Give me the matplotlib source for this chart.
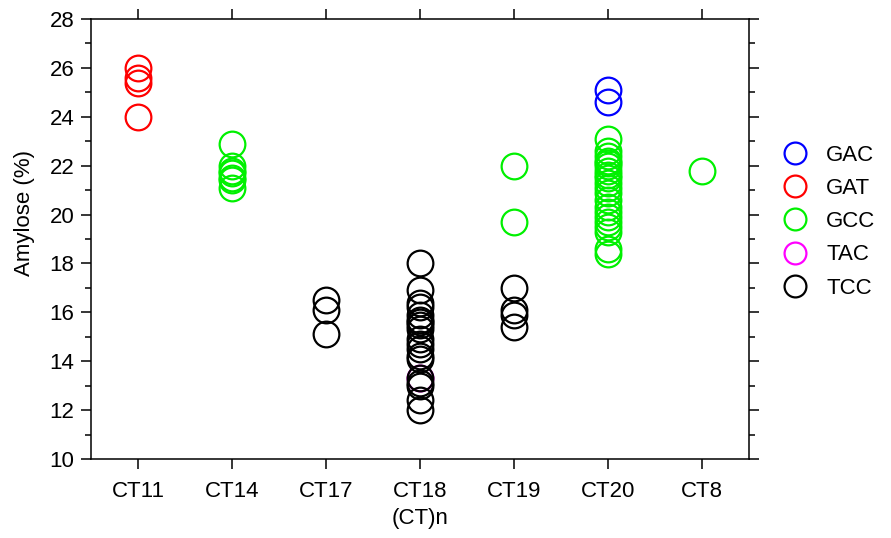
import matplotlib
matplotlib.use('Agg')
import matplotlib.pyplot as plt
from matplotlib.ticker import MultipleLocator

plt.rcParams['font.family'] = ['Liberation Sans', 'DejaVu Sans']

categories = ['CT11', 'CT14', 'CT17', 'CT18', 'CT19', 'CT20', 'CT8']

# (category, amylose) pairs per haplotype
gac_cat = ['CT20', 'CT20']
gac_val = [25.1, 24.6]

gat_cat = ['CT11', 'CT11', 'CT11', 'CT11']
gat_val = [26.0, 25.6, 25.4, 24.0]

gcc_cat = ['CT14'] * 7 + ['CT19'] * 2 + ['CT20'] * 21 + ['CT8']
gcc_val = [22.9, 22.0, 21.8, 21.7, 21.5, 21.4, 21.1,
           22.0, 19.7,
           23.1, 22.6, 22.4, 22.2, 22.1, 22.0, 21.8, 21.6, 21.5, 21.3, 21.1,
           20.9, 20.6, 20.3, 20.1, 19.9, 19.7, 19.5, 19.3, 18.6, 18.4,
           21.8]

tac_cat = ['CT18']
tac_val = [13.3]

tcc_cat = ['CT17'] * 3 + ['CT18'] * 19 + ['CT19'] * 4
tcc_val = [16.5, 16.1, 15.1,
           18.0, 16.9, 16.4, 16.2, 15.9, 15.7, 15.6, 15.5, 15.3, 14.9, 14.7,
           14.5, 14.2, 14.1, 13.3, 13.1, 13.0, 12.4, 12.0,
           17.0, 16.1, 15.9, 15.4]

series = [('GAC', gac_cat, gac_val, '#0000ff'),
          ('GAT', gat_cat, gat_val, '#ff0000'),
          ('GCC', gcc_cat, gcc_val, '#00f000'),
          ('TAC', tac_cat, tac_val, '#ff00ff'),
          ('TCC', tcc_cat, tcc_val, '#000000')]

fig = plt.figure(figsize=(8.91, 5.38), dpi=100)
ax = fig.add_axes([91/891, 1-459/538, (749-91)/891, (459-19)/538])

for name, cats, vals, col in series:
    xs = [categories.index(c) for c in cats]
    ax.plot(xs, vals, 'o', ms=18.5, mfc='none', mec=col, mew=1.6,
            ls='none', label=name)

ax.set_xlim(-0.5, 6.5)
ax.set_ylim(10, 28)
ax.set_xticks(range(len(categories)))
ax.set_xticklabels(categories)
ax.yaxis.set_major_locator(MultipleLocator(2))
ax.yaxis.set_minor_locator(MultipleLocator(1))
ax.tick_params(axis='both', which='major', labelsize=16, width=1.1,
               length=7, direction='out')
ax.tick_params(axis='y', which='minor', width=1.1, length=4,
               direction='out', right=True)
ax.tick_params(axis='y', right=True, pad=5)
ax.tick_params(axis='x', top=True, pad=9)
for s in ax.spines.values():
    s.set_linewidth(1.1)

ax.set_ylabel('Amylose (%)', fontsize=16)
ax.yaxis.set_label_coords(-0.085, 0.56)
ax.set_xlabel('(CT)n', fontsize=16, labelpad=4)

fig.legend(loc='center left', bbox_to_anchor=(0.855, 0.588), frameon=False,
           fontsize=16, markerscale=0.85, handletextpad=0.8,
           labelspacing=0.55, handlelength=1.2)

fig.savefig('out.png', dpi=100)
